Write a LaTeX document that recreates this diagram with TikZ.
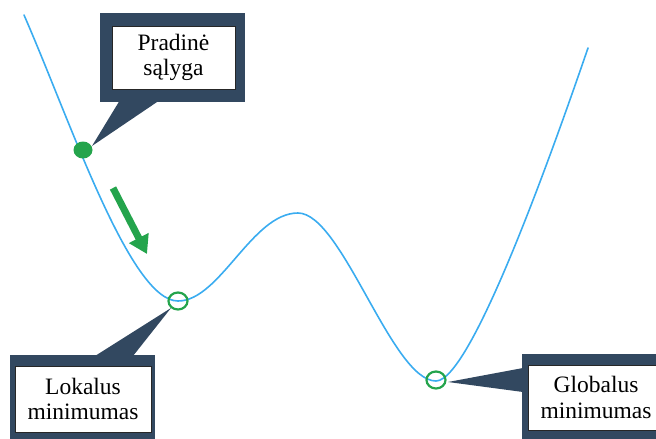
\documentclass[tikz,border=0pt]{standalone}
\usepackage{fontspec}
\setmainfont{Liberation Serif}
\newfontfamily\labelfont{Liberation Serif}
\usetikzlibrary{arrows.meta}
\definecolor{curveblue}{RGB}{58,172,240}
\definecolor{callout}{RGB}{50,72,96}
\definecolor{markgreen}{RGB}{36,164,76}
\tikzset{
  outerbox/.style={fill=callout, draw=none, inner sep=0pt},
  innerbox/.style={fill=white, draw=black!85, line width=0.8pt, inner sep=0pt,
    align=center, font=\labelfont\fontsize{23.5}{25.5}\selectfont},
  pointer/.style={fill=callout, draw=none},
  minring/.style={draw=markgreen, line width=2.2pt, fill=none},
}
\begin{document}
\begin{tikzpicture}[x=1pt,y=-1pt]
  \useasboundingbox (0,0) rectangle (656,439);
  \clip (0,0) rectangle (656,439);

  % objective function curve
  \draw[curveblue, line width=1.6pt, line cap=round]
    (24,15) .. controls (70,120) and (130,301) .. (178,301)
            .. controls (220,301) and (252,213) .. (298,213)
            .. controls (342,213) and (392,381) .. (436,381)
            .. controls (472,381) and (557,138) .. (588,48);

  % points on the curve
  \coordinate (start) at (83,150);
  \coordinate (locmin) at (178,301);
  \coordinate (globmin) at (436,380);

  % callout: starting point
  \node[outerbox, minimum width=145pt, minimum height=89pt] (startouter) at (172.5,57.5) {};
  \fill[pointer] (120,100) -- (160,100) -- (92,146) -- cycle;
  \node[innerbox, minimum width=123pt, minimum height=63pt] (starttext) at (173.5,57.5)
    {Pradinė\\sąlyga};

  % callout: local minimum
  \node[outerbox, minimum width=145pt, minimum height=90pt] (locouter) at (82.5,400) {};
  \fill[pointer] (95,356) -- (133,356) -- (171,308) -- cycle;
  \node[innerbox, minimum width=136pt, minimum height=66pt] (loctext) at (83,399)
    {Lokalus\\minimumas};

  % callout: global minimum
  \node[outerbox, minimum width=150pt, minimum height=90pt] (globouter) at (597,399) {};
  \fill[pointer] (523,368) -- (523,392) -- (448,382) -- cycle;
  \node[innerbox, minimum width=136pt, minimum height=65pt] (globtext) at (596,397.5)
    {Globalus\\minimumas};

  % markers
  \fill[markgreen] (start) ellipse [x radius=9.5pt, y radius=8.5pt];
  \draw[minring] (locmin) ellipse [x radius=9.5pt, y radius=8.5pt];
  \draw[minring] (globmin) ellipse [x radius=9.5pt, y radius=8.5pt];

  % descent direction
  \coordinate (arrtail) at (113,188);
  \coordinate (arrhead) at (147,254);
  \draw[markgreen, line width=7pt, -{Triangle[length=18pt, width=21pt]}] (arrtail) -- (arrhead);
\end{tikzpicture}
\end{document}
